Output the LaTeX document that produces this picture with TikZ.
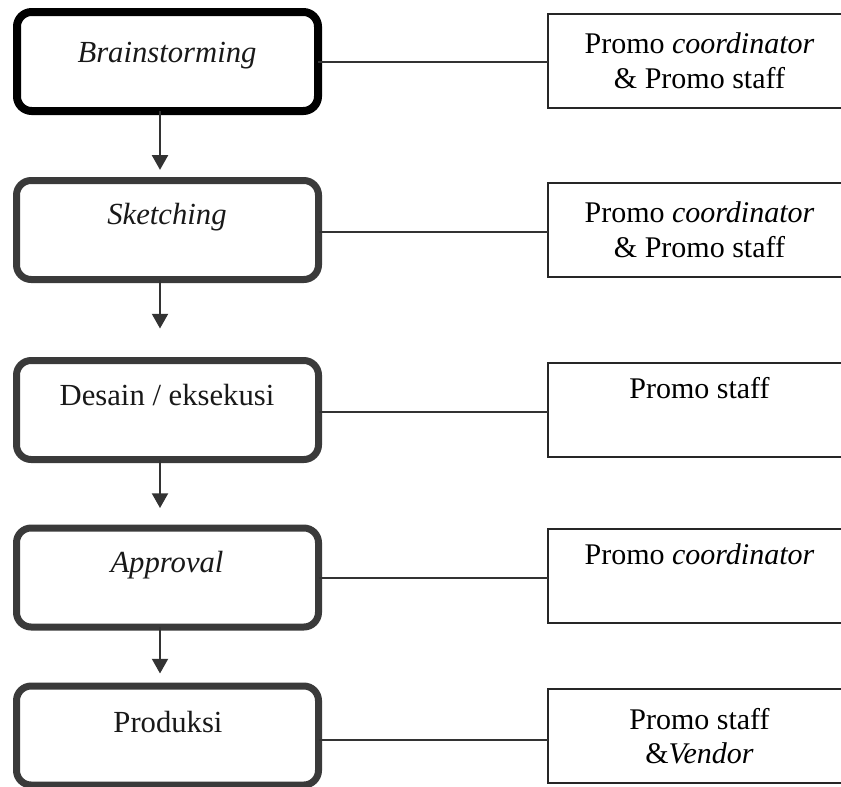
\documentclass[tikz,border=0pt]{standalone}
\usepackage{fontspec}
\setmainfont{Liberation Serif}
\usetikzlibrary{arrows.meta}
\definecolor{boxgray}{HTML}{3A3A3A}
\definecolor{linegray}{HTML}{333333}
\tikzset{
  lbox/.style={draw=boxgray, line width=5.25pt, rounded corners=11pt, fill=white,
    minimum width=226.5pt, minimum height=74.25pt, inner sep=0pt, outer sep=0pt},
  rbox/.style={draw=black!85, line width=1.5pt, fill=white,
    minimum width=227pt, minimum height=70.5pt, inner sep=0pt, outer sep=0pt,
    align=center, font=\fontsize{22.5}{26}\selectfont},
  ltext/.style={font=\fontsize{23}{27}\selectfont, text=black!90, inner sep=0pt, anchor=base},
  conn/.style={draw=linegray, line width=1.3pt},
  arr/.style={draw=linegray, line width=1.5pt, -{Triangle[width=12pt,length=11pt]}},
}
\begin{document}
\begin{tikzpicture}[x=0.75pt,y=-0.75pt]
\useasboundingbox (0,0) rectangle (841,786);
% left process boxes
\node[lbox, draw=black, line width=6pt, minimum width=225.75pt] (b1) at (167.5,61.5) {};
\node[lbox] (b2) at (167.5,230) {};
\node[lbox] (b3) at (167.5,410) {};
\node[lbox] (b4) at (167.5,577.5) {};
\node[lbox] (b5) at (167.5,735.5) {};
\node[ltext] (t1) at (167,62) {\textit{Brainstorming}};
\node[ltext] (t2) at (167,224) {\textit{Sketching}};
\node[ltext] (t3) at (167,405) {Desain / eksekusi};
\node[ltext] (t4) at (167,572) {\textit{Approval}};
\node[ltext] (t5) at (168,732) {Produksi};
% right role boxes
\node[rbox] (r1) at (699.5,60.5) {Promo \textit{coordinator}\\\& Promo staff};
\node[rbox] (r2) at (699.5,229.5) {Promo \textit{coordinator}\\\& Promo staff};
\node[rbox, text height=16pt, text depth=33pt] (r3) at (699.5,409.5) {Promo staff};
\node[rbox, text height=16pt, text depth=33pt] (r4) at (699.5,575.5) {Promo \textit{coordinator}};
\node[rbox] (r5) at (699.5,736) {Promo staff\\\&\textit{Vendor}};
% connectors
\draw[conn] (b1.east |- 0,62) -- (r1.west |- 0,62);
\draw[conn] (b2.east |- 0,232) -- (r2.west |- 0,232);
\draw[conn] (b3.east |- 0,412) -- (r3.west |- 0,412);
\draw[conn] (b4.east |- 0,578) -- (r4.west |- 0,578);
\draw[conn] (b5.east |- 0,740) -- (r5.west |- 0,740);
% arrows
\draw[arr, shorten >=8pt] (b1.south -| 160,0) -- (b2.north -| 160,0);
\draw[arr, shorten >=24pt] (b2.south -| 160,0) -- (b3.north -| 160,0);
\draw[arr, shorten >=15pt] (b3.south -| 160,0) -- (b4.north -| 160,0);
\draw[arr, shorten >=9.4pt] (b4.south -| 160,0) -- (b5.north -| 160,0);
\end{tikzpicture}
\end{document}
